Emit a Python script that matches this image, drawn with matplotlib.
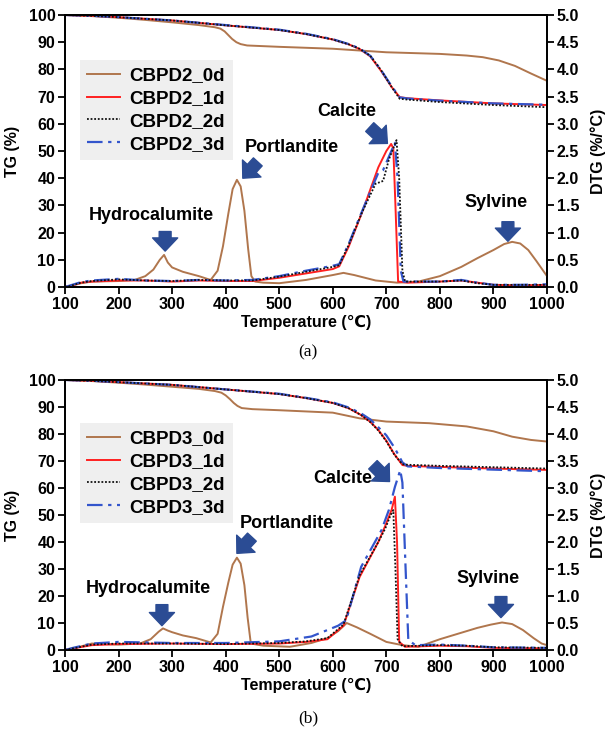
import matplotlib
matplotlib.use("Agg")
import matplotlib.pyplot as plt

plt.rcParams['font.family'] = ['Liberation Sans', 'DejaVu Sans']
plt.rcParams['font.weight'] = 'bold'

# ---------------- panel (a) data ----------------
# TG curves (%)
tg_a0_T = [100, 150, 200, 250, 300, 350, 380, 390, 398, 405, 412, 420, 428, 440, 500, 600, 700, 800, 850, 880, 910, 940, 970, 1000]
tg_a0 = [100, 99.6, 99, 98.2, 97.3, 96.3, 95.5, 95.0, 94.0, 92.6, 91.2, 90.0, 89.3, 88.8, 88.3, 87.6, 86.3, 85.7, 85.1,
         84.5, 83.3, 81.3, 78.5, 75.8]
tg_a_T = [100, 150, 200, 300, 400, 500, 550, 600, 630, 650, 670, 690, 710, 725, 740, 800, 900, 1000]
tg_a1 = [100, 99.7, 99.2, 98, 96.2, 94.5, 93, 91, 89.2, 87.5, 84.8, 79.5, 73.5, 69.8, 69.4, 68.6, 67.5, 66.9]
tg_a2 = [100, 99.7, 99.2, 98, 96.2, 94.5, 93, 91, 89.2, 87.6, 85.0, 79.8, 73.5, 69.2, 68.9, 68.0, 66.9, 66.1]
tg_a3 = [100, 99.7, 99.2, 98, 96.3, 94.6, 93.1, 91.1, 89.3, 87.7, 85.0, 79.8, 73.8, 69.7, 69.3, 68.5, 67.5, 67.0]

# DTG curves (%/°C)
dtg_a0_T = [100, 110, 130, 150, 200, 230, 250, 265, 277, 285, 292, 300, 320, 350, 372, 385, 395, 405, 413, 421, 428,
            435, 442, 448, 455, 470, 500, 550, 600, 620, 640, 680, 720, 760, 800, 840, 870, 900, 920, 935, 950, 965,
            980, 1000]
dtg_a0 = [0, 0.02, 0.07, 0.1, 0.11, 0.13, 0.2, 0.32, 0.5, 0.59, 0.45, 0.36, 0.28, 0.2, 0.13, 0.3, 0.75, 1.35, 1.8, 1.97,
          1.85, 1.4, 0.7, 0.2, 0.1, 0.08, 0.07, 0.13, 0.22, 0.26, 0.22, 0.12, 0.08, 0.1, 0.2, 0.37, 0.53, 0.68, 0.79,
          0.83, 0.8, 0.68, 0.48, 0.2]
dtg_a1_T = [100, 110, 130, 150, 200, 250, 300, 350, 400, 450, 500, 550, 600, 612, 630, 655, 685, 700, 709, 713, 717,
            722, 740, 800, 840, 870, 900, 950, 1000]
dtg_a1 = [0, 0.02, 0.08, 0.1, 0.12, 0.12, 0.1, 0.12, 0.11, 0.11, 0.17, 0.25, 0.33, 0.38, 0.75, 1.38, 2.2, 2.5, 2.63, 2.55,
          1.5, 0.1, 0.08, 0.1, 0.12, 0.08, 0.04, 0.03, 0.04]
dtg_a2_T = [100, 110, 130, 150, 200, 250, 300, 350, 400, 450, 500, 550, 600, 612, 630, 655, 680, 686, 694, 705, 719,
            724, 730, 735, 800, 840, 870, 900, 950, 1000]
dtg_a2 = [0, 0.02, 0.08, 0.11, 0.14, 0.12, 0.11, 0.13, 0.12, 0.12, 0.19, 0.28, 0.37, 0.4, 0.78, 1.38, 1.9, 1.92, 1.95,
          2.35, 2.7, 2.0, 0.3, 0.1, 0.1, 0.12, 0.07, 0.04, 0.04, 0.04]
dtg_a3_T = [100, 110, 130, 150, 200, 250, 300, 350, 400, 450, 500, 550, 600, 612, 630, 655, 685, 694, 705, 716, 721,
            727, 732, 800, 840, 870, 900, 950, 1000]
dtg_a3 = [0, 0.03, 0.09, 0.12, 0.15, 0.12, 0.11, 0.13, 0.12, 0.13, 0.2, 0.3, 0.39, 0.42, 0.8, 1.4, 2.1, 2.15, 2.4,
          2.65, 2.0, 0.3, 0.1, 0.1, 0.13, 0.08, 0.04, 0.04, 0.05]

# ---------------- panel (b) data ----------------
tg_b0_T = [100, 150, 200, 250, 300, 350, 380, 392, 400, 408, 415, 422, 430, 450, 500, 600, 650, 700, 780, 850, 900,
           935, 970, 1000]
tg_b0 = [100, 99.6, 99, 98.3, 97.5, 96.7, 95.9, 95.3, 94.3, 92.9, 91.5, 90.4, 89.6, 89.2, 88.8, 87.9, 85.8, 84.6, 84.0,
         82.8, 81.0, 79.0, 77.8, 77.2]
tg_b_T = [100, 150, 200, 300, 400, 500, 550, 600, 630, 653, 670, 685, 700, 715, 730, 740, 800, 900, 1000]
tg_b1 = [100, 99.7, 99.2, 98.2, 96.5, 94.8, 93.3, 91.5, 89.5, 87.0, 84.5, 81.5, 77.5, 72.5, 68.5, 68.2, 67.8, 67.2, 66.7]
tg_b2 = [100, 99.7, 99.2, 98.2, 96.5, 94.8, 93.3, 91.5, 89.5, 87.0, 84.4, 81.3, 77.3, 72.3, 68.8, 68.6, 68.2, 67.7, 67.2]
tg_b3 = [100, 99.7, 99.2, 98.2, 96.5, 94.9, 93.4, 91.7, 89.8, 87.6, 85.4, 82.5, 79.5, 75.0, 69.5, 68.0, 67.4, 66.8, 66.2]

dtg_b0_T = [100, 120, 150, 200, 240, 260, 275, 283, 292, 300, 320, 345, 372, 385, 395, 405, 413, 421, 428, 435, 441,
            447, 470, 520, 560, 590, 610, 626, 645, 670, 700, 730, 760, 800, 840, 870, 895, 916, 935, 955, 975, 990, 1000]
dtg_b0 = [0, 0.04, 0.12, 0.1, 0.12, 0.2, 0.34, 0.4, 0.36, 0.33, 0.27, 0.22, 0.14, 0.3, 0.8, 1.25, 1.58, 1.71, 1.6, 1.2,
          0.6, 0.12, 0.08, 0.06, 0.13, 0.22, 0.35, 0.5, 0.42, 0.3, 0.15, 0.09, 0.06, 0.2, 0.32, 0.41, 0.47, 0.51, 0.48,
          0.37, 0.22, 0.12, 0.09]
dtg_b1_T = [100, 115, 150, 200, 300, 400, 500, 550, 590, 620, 650, 685, 698, 710, 716, 720, 724, 735, 800, 850, 900, 1000]
dtg_b1 = [0, 0.03, 0.09, 0.11, 0.12, 0.11, 0.12, 0.15, 0.2, 0.45, 1.35, 2.0, 2.3, 2.6, 2.84, 2.0, 0.15, 0.06, 0.08,
          0.07, 0.04, 0.03]
dtg_b2_T = [100, 115, 150, 200, 300, 400, 500, 550, 590, 620, 650, 685, 698, 708, 713, 717, 721, 730, 800, 850, 900, 1000]
dtg_b2 = [0, 0.03, 0.1, 0.12, 0.12, 0.11, 0.13, 0.16, 0.22, 0.47, 1.38, 2.0, 2.25, 2.5, 2.59, 1.5, 0.2, 0.07, 0.09,
          0.08, 0.05, 0.04]
dtg_b3_T = [100, 115, 150, 200, 300, 400, 500, 560, 610, 625, 653, 691, 705, 716, 726, 730, 736, 741, 754, 800, 850,
            900, 1000]
dtg_b3 = [0, 0.04, 0.12, 0.15, 0.13, 0.13, 0.16, 0.25, 0.45, 0.55, 1.54, 2.22, 2.6, 3.02, 3.33, 3.1, 1.5, 0.19, 0.09,
          0.1, 0.08, 0.05, 0.04]

# peak annotations: (label, text T, text DTG, arrow tail (T, DTG), arrow tip (T, DTG))
peaks_a = [
    ("Hydrocalumite", 262, 1.32, (287, 1.02), (287, 0.66)),
    ("Portlandite", 524, 2.57, (460, 2.30), (432, 2.00)),
    ("Calcite", 627, 3.22, (669, 2.94), (702, 2.64)),
    ("Sylvine", 905, 1.56, (927, 1.20), (927, 0.84)),
]
peaks_b = [
    ("Hydrocalumite", 255, 1.13, (281, 0.84), (281, 0.45)),
    ("Portlandite", 514, 2.35, (449, 2.09), (421, 1.79)),
    ("Calcite", 619, 3.17, (675, 3.43), (706, 3.12)),
    ("Sylvine", 890, 1.33, (914, 0.99), (914, 0.60)),
]

c0, c1, c2, c3 = '#B0764D', '#FF2020', '#111111', '#3355CC'
arrow_col = '#2B4C94'

fig = plt.figure(figsize=(6.16, 7.32), dpi=100)


def draw_panel(rect, prefix, tg0T, tg0, tgT, tg1, tg2, tg3,
               d0T, d0, d1T, d1, d2T, d2, d3T, d3, peaks, leg_top, tag, tag_y):
    ax = fig.add_axes(rect)
    ax2 = ax.twinx()

    ax.plot(tg0T, tg0, color=c0, lw=1.4)
    ax.plot(tgT, tg1, color=c1, lw=1.4)
    ax.plot(tgT, tg3, color=c3, lw=1.6, ls=(0, (7, 2.5, 1.5, 2.5)))
    ax.plot(tgT, tg2, color=c2, lw=1.3, ls=(0, (1, 1)))

    h0, = ax2.plot(d0T, d0, color=c0, lw=1.4, label=prefix + '_0d')
    h1, = ax2.plot(d1T, d1, color=c1, lw=1.4, label=prefix + '_1d')
    h3, = ax2.plot(d3T, d3, color=c3, lw=1.6, ls=(0, (7, 2.5, 1.5, 2.5)), label=prefix + '_3d')
    h2, = ax2.plot(d2T, d2, color=c2, lw=1.3, ls=(0, (1, 1)), label=prefix + '_2d')

    ax.set_xlim(100, 1000)
    ax.set_ylim(0, 100)
    ax2.set_ylim(0, 5.0)
    ax.set_xticks(range(100, 1001, 100))
    ax.set_yticks(range(0, 101, 10))
    ax2.set_yticks([i * 0.5 for i in range(11)])
    ax2.set_yticklabels(['%.1f' % (i * 0.5) for i in range(11)])

    for a in (ax, ax2):
        a.tick_params(direction='out', length=5, width=1.3, labelsize=11.5, pad=2)
        for s in a.spines.values():
            s.set_linewidth(1.3)

    ax.set_xlabel('Temperature (℃)', fontsize=11.5, fontweight='bold', labelpad=2)
    ax.set_ylabel('TG (%)', fontsize=11.5, fontweight='bold', labelpad=6)
    ax2.set_ylabel('DTG (%/°C)', fontsize=11.5, fontweight='bold', labelpad=8)

    for name, tx, ty, tail, tip in peaks:
        ax2.text(tx, ty, name, ha='center', va='center', fontsize=13, fontweight='bold')
        ax2.annotate('', xy=tip, xytext=tail,
                     arrowprops=dict(arrowstyle='simple,head_width=0.95,head_length=0.5,tail_width=0.45',
                                     color=arrow_col, mutation_scale=19, shrinkA=0, shrinkB=0))

    leg = ax2.legend(handles=[h0, h1, h2, h3], loc='upper left', bbox_to_anchor=(0.031, leg_top),
                     borderaxespad=0, fontsize=13.5, handlelength=1.75, handletextpad=0.5,
                     labelspacing=0.3, borderpad=0.4, frameon=True, fancybox=False,
                     facecolor='#EFEFEF', edgecolor='none', framealpha=1)
    for t in leg.get_texts():
        t.set_fontweight('bold')

    fig.text(0.5, tag_y, tag, ha='center', va='center', fontsize=12.5,
             family=['Liberation Serif', 'DejaVu Serif'], fontweight='normal')


draw_panel([0.1055, 0.6079, 0.7825, 0.3716], 'CBPD2', tg_a0_T, tg_a0, tg_a_T, tg_a1, tg_a2, tg_a3,
           dtg_a0_T, dtg_a0, dtg_a1_T, dtg_a1, dtg_a2_T, dtg_a2, dtg_a3_T, dtg_a3, peaks_a, 0.835,
           '(a)', 1 - 352 / 732)
draw_panel([0.1055, 0.1120, 0.7825, 0.3689], 'CBPD3', tg_b0_T, tg_b0, tg_b_T, tg_b1, tg_b2, tg_b3,
           dtg_b0_T, dtg_b0, dtg_b1_T, dtg_b1, dtg_b2_T, dtg_b2, dtg_b3_T, dtg_b3, peaks_b, 0.841,
           '(b)', 1 - 718 / 732)

fig.savefig('out.png', dpi=100)
